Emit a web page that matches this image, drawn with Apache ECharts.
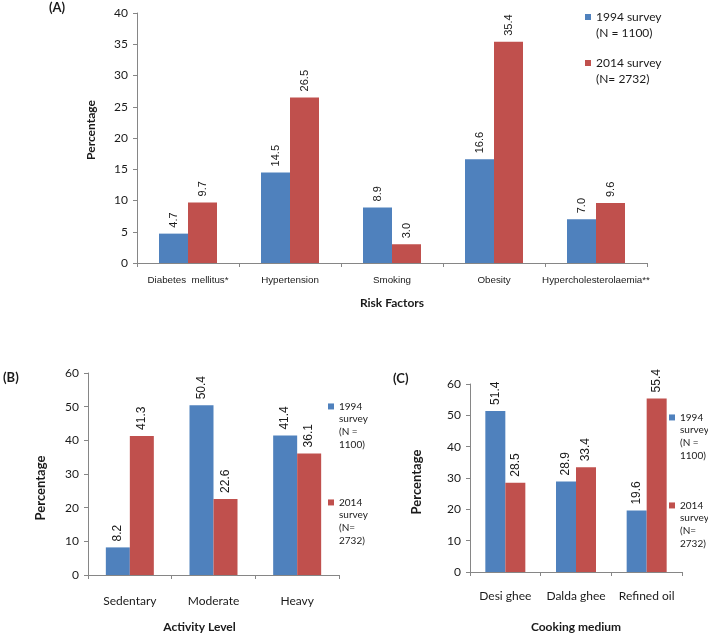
<!DOCTYPE html>
<html>
<head>
<meta charset="utf-8">
<script src="https://cdn.jsdelivr.net/npm/echarts@6/dist/echarts.min.js"></script>
<style>
html,body{margin:0;padding:0;background:#fff;}
#chart{width:708px;height:634px;}
</style>
</head>
<body>
<div id="chart"></div>
<script>
// ---- Data ----
const riskCategories = ['Diabetes  mellitus*', 'Hypertension', 'Smoking', 'Obesity', 'Hypercholesterolaemia**'];
const risk1994 = [4.7, 14.5, 8.9, 16.6, 7.0];
const risk2014 = [9.7, 26.5, 3.0, 35.4, 9.6];

const activityCategories = ['Sedentary', 'Moderate', 'Heavy'];
const activity1994 = [8.2, 50.4, 41.4];
const activity2014 = [41.3, 22.6, 36.1];

const cookingCategories = ['Desi ghee', 'Dalda ghee', 'Refined oil'];
const cooking1994 = [51.4, 28.9, 19.6];
const cooking2014 = [28.5, 33.4, 55.4];

const nameA1994 = '1994 survey\n(N = 1100)';
const nameA2014 = '2014 survey\n(N= 2732)';
const nameB1994 = '1994\nsurvey\n(N =\n1100)';
const nameB2014 = '2014\nsurvey\n(N=\n2732)';

const BLUE = '#4F81BD';
const RED = '#C0504D';
const AXIS = '#868686';
const TXT = '#1a1a1a';
const CAL = 'Lato, "Noto Sans", sans-serif';
const ARIAL = '"Liberation Sans", Arial, sans-serif';

const chart = echarts.init(document.getElementById('chart'), null, {renderer: 'canvas'});

function yAxis(gridIndex, max, interval, fontSize, nameGap, nameSize, namePad) {
  return {
    type: 'value', gridIndex, min: 0, max, interval,
    name: 'Percentage', nameLocation: 'middle', nameGap,
    nameTextStyle: {fontFamily: CAL, fontWeight: 'bold', fontSize: nameSize, color: TXT, padding: namePad},
    axisLine: {show: true, lineStyle: {color: AXIS, width: 1}},
    axisTick: {show: true, length: 4, lineStyle: {color: AXIS}},
    splitLine: {show: false},
    axisLabel: {fontFamily: CAL, fontSize, color: TXT, margin: 9}
  };
}
function xAxis(gridIndex, data, name, fontFamily, fontSize, margin, nameGap, nameSize, namePad) {
  return {
    type: 'category', gridIndex, data,
    name, nameLocation: 'middle', nameGap,
    nameTextStyle: {fontFamily: CAL, fontWeight: 'bold', fontSize: nameSize, color: TXT, padding: namePad},
    axisLine: {show: true, lineStyle: {color: AXIS, width: 1}},
    axisTick: {show: true, length: 4, lineStyle: {color: AXIS}},
    axisLabel: {fontFamily, fontSize, color: TXT, margin, interval: 0}
  };
}
function bar(name, data, color, xi, yi, width, fontSize) {
  return {
    type: 'bar', name, data, xAxisIndex: xi, yAxisIndex: yi,
    barWidth: width, barGap: '0%',
    itemStyle: {color},
    label: {
      show: true, position: 'top', rotate: 90, align: 'left', verticalAlign: 'middle',
      distance: 6, fontFamily: ARIAL, fontSize, color: TXT,
      formatter: p => Number(p.value).toFixed(1)
    },
    animation: false
  };
}
function legendItem(name, left, top, lines, lh, fontSize) {
  return {
    data: [name], left, top, orient: 'vertical', padding: 0,
    itemWidth: 6, itemHeight: 6, icon: 'rect',
    selectedMode: false,
    // blank lines above keep the swatch level with the first text line
    formatter: n => '\n'.repeat(lines - 1) + n,
    textStyle: {fontFamily: CAL, fontSize, color: TXT, lineHeight: lh}
  };
}

const option = {
  backgroundColor: '#ffffff',
  animation: false,
  title: [
    {text: '(A)', left: 49, top: 1, padding: 0, textStyle: {fontFamily: CAL, fontWeight: 'bold', fontSize: 13, color: TXT}},
    {text: '(B)', left: 3, top: 371, padding: 0, textStyle: {fontFamily: CAL, fontWeight: 'bold', fontSize: 13, color: TXT}},
    {text: '(C)', left: 393, top: 372, padding: 0, textStyle: {fontFamily: CAL, fontWeight: 'bold', fontSize: 13, color: TXT}}
  ],
  grid: [
    {left: 137, top: 13, right: 61, bottom: 371, containLabel: false},
    {left: 88, top: 373, right: 369, bottom: 57, containLabel: false},
    {left: 470, top: 384, right: 26, bottom: 60, containLabel: false}
  ],
  xAxis: [
    xAxis(0, riskCategories, 'Risk Factors', ARIAL, 9.8, 12, 34, 12, 0),
    xAxis(1, activityCategories, 'Activity Level', CAL, 12, 20, 46, 12, [0, 28, 0, 0]),
    xAxis(2, cookingCategories, 'Cooking medium', CAL, 12, 18, 49, 12, 0)
  ],
  yAxis: [
    yAxis(0, 40, 5, 12, 40, 12, [0, 0, 0, 16]),
    yAxis(1, 60, 10, 12, 41, 13, [0, 28, 0, 0]),
    yAxis(2, 60, 10, 12, 47, 13, [0, 8, 0, 0])
  ],
  legend: [
    legendItem(nameA1994, 585, -7, 2, 16, 12),
    legendItem(nameA2014, 585, 39, 2, 16, 12),
    legendItem(nameB1994, 328, 362, 4, 12.7, 10),
    legendItem(nameB2014, 328, 458, 4, 12.7, 10),
    legendItem(nameB1994, 669, 373, 4, 12.7, 10),
    legendItem(nameB2014, 669, 461, 4, 12.7, 10)
  ],
  series: [
    bar(nameA1994, risk1994, BLUE, 0, 0, 29, 11),
    bar(nameA2014, risk2014, RED, 0, 0, 29, 11),
    bar(nameB1994, activity1994, BLUE, 1, 1, 24, 12),
    bar(nameB2014, activity2014, RED, 1, 1, 24, 12),
    bar(nameB1994, cooking1994, BLUE, 2, 2, 20, 12),
    bar(nameB2014, cooking2014, RED, 2, 2, 20, 12)
  ]
};
chart.setOption(option);
</script>
</body>
</html>
